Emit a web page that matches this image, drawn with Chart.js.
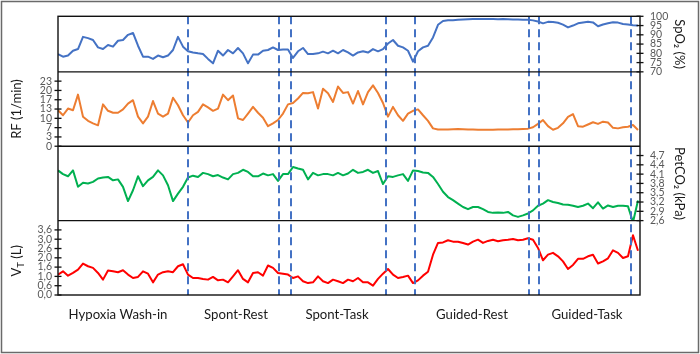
<!DOCTYPE html>
<html><head><meta charset="utf-8">
<script src="https://cdn.jsdelivr.net/npm/chart.js@4.4.1/dist/chart.umd.min.js"></script>
<style>html,body{margin:0;padding:0;background:#fff;}#wrap{width:700px;height:354px;}</style>
</head><body><div id="wrap"><canvas id="c" width="700" height="354"></canvas></div>
<script>
// ---- data (time in minutes, one sample every SAMPLE_STEP) ----
const SAMPLE_STEP = 0.5;
const spo2 = [79.6,78.2,78.8,81.4,82.3,88.9,88.2,87.2,83.2,82.3,84.5,83.6,86.8,87.2,90.0,91.0,84.1,78.2,78.2,77.0,
 78.8,77.9,78.8,81.8,88.9,83.6,81.1,80.5,80.0,79.6,77.0,74.6,81.4,78.8,81.8,80.0,82.9,80.0,74.6,79.3,
 79.3,81.4,81.8,83.2,81.8,82.1,82.1,77.5,81.1,82.9,79.6,79.6,80.0,80.9,80.0,81.4,80.0,81.8,80.5,78.8,
 80.5,81.1,80.4,82.3,81.1,82.3,85.3,87.2,84.1,83.2,81.4,75.5,81.1,83.2,84.1,88.6,95.4,97.5,97.9,
 97.9,98.1,98.3,98.4,98.5,98.6,98.6,98.5,98.5,98.4,98.5,98.4,98.3,98.3,98.2,98.1,97.8,97.2,96.2,97.0,
 96.9,96.5,95.5,94.0,95.0,96.2,96.7,97.0,96.7,94.6,95.6,96.2,96.8,96.6,95.8,95.6,95.2,95.0];
const rf = [12.9,11.1,13.5,12.9,18.5,10.6,9.1,8.2,7.5,15.0,12.7,12.0,12.0,13.2,15.3,16.5,10.6,8.2,10.6,16.2,
 11.7,10.6,11.7,17.4,14.7,11.1,8.5,11.1,12.3,15.0,13.9,12.7,13.5,18.5,16.5,18.2,10.0,9.4,11.7,14.1,
 12.0,10.2,7.2,8.2,9.4,11.7,15.0,15.5,17.1,19.1,19.0,19.4,13.5,20.6,19.0,15.9,21.4,19.1,19.4,15.3,
 19.8,15.0,19.4,21.8,19.1,15.5,10.6,14.1,11.1,9.1,11.7,12.7,13.2,11.1,9.1,6.4,6.0,6.0,6.0,
 6.1,6.2,6.1,6.0,6.0,5.9,5.9,5.9,5.9,6.0,6.0,6.0,6.1,6.1,6.2,6.3,6.8,8.0,9.4,7.2,
 5.9,6.6,8.2,10.5,11.5,7.2,7.0,7.8,8.6,8.0,8.8,8.5,6.6,6.4,6.8,7.0,7.6,5.8];
const petco2 = [4.22,4.10,4.03,4.22,3.69,3.82,3.80,3.85,3.96,3.99,4.01,3.90,3.93,3.69,3.23,3.58,4.03,3.71,3.90,4.01,
 4.22,4.06,3.74,3.23,3.47,3.69,3.99,4.05,4.01,4.14,4.10,4.03,4.07,3.99,3.93,4.10,4.14,4.24,4.17,4.03,
 4.03,4.12,4.06,4.10,3.88,4.10,4.10,4.33,4.28,4.24,3.93,4.14,4.06,4.10,4.10,4.06,4.14,4.06,4.12,4.24,
 4.14,4.17,4.24,4.14,4.20,3.78,4.03,4.01,4.06,4.10,3.88,4.22,4.20,4.15,4.14,4.01,3.78,3.53,3.36,
 3.26,3.15,3.04,2.97,3.04,3.04,2.97,2.88,2.85,2.86,2.85,2.88,2.77,2.72,2.77,2.83,2.93,3.08,3.15,3.26,
 3.20,3.17,3.12,3.11,3.08,3.04,3.08,3.15,3.00,3.19,2.99,3.09,3.04,3.08,3.08,3.06,2.55,3.25];
const vt = [1.13,1.31,1.07,1.22,1.40,1.74,1.59,1.50,1.22,0.85,1.35,1.31,1.26,1.37,1.13,0.94,1.00,1.31,1.18,0.70,
 1.13,1.26,1.31,1.26,1.59,1.70,1.13,0.94,0.94,0.89,0.85,1.00,0.81,0.85,0.70,1.03,1.37,0.89,0.70,1.22,
 1.26,1.07,1.63,1.50,1.22,1.18,1.13,0.94,1.03,0.76,0.66,0.70,1.03,0.76,0.66,0.85,0.76,0.66,0.85,0.76,
 0.94,0.70,0.70,0.52,0.89,1.18,1.44,1.13,0.94,1.00,1.07,0.66,0.81,1.07,1.29,2.23,2.88,2.91,3.03,
 2.95,2.95,2.88,2.79,2.95,3.06,2.88,2.99,3.06,2.97,3.03,3.06,3.10,3.03,3.06,3.14,3.06,2.60,1.92,2.23,
 2.33,2.14,1.86,1.44,1.66,2.00,2.00,2.14,2.23,1.74,1.86,2.03,2.47,2.33,2.05,2.14,3.30,2.45];

const phaseBoundaries = [13.0, 22.1, 23.3, 32.8, 35.7, 47.1, 48.1, 57.3];
const phaseNames = ['Hypoxia Wash-in', 'Spont-Rest', 'Spont-Task', 'Guided-Rest', 'Guided-Task'];
const phaseLabelPos = [6.0, 17.8, 27.9, 41.4, 52.9];

const spo2Ticks = [70, 75, 80, 85, 90, 95, 100];
const spo2TickLabels = ['70', '75', '80', '85', '90', '95', '100'];
const rfTicks = [0, 3.333, 6.667, 10, 13.333, 16.667, 20, 23.333];
const rfTickLabels = ['0', '3', '7', '10', '13', '17', '20', '23'];
const petTicks = [2.6, 2.9, 3.2, 3.5, 3.8, 4.1, 4.4, 4.7];
const petTickLabels = ['2,6', '2,9', '3,2', '3,5', '3,8', '4,1', '4,4', '4,7'];
const vtTicks = [0, 0.514, 1.029, 1.543, 2.057, 2.571, 3.086, 3.6];
const vtTickLabels = ['0,0', '0,6', '1,0', '1,6', '2,0', '2,6', '3,0', '3,6'];

// ---- chart ----
const times = spo2.map((_, i) => i * SAMPLE_STEP);
const toXY = arr => arr.map((v, i) => ({x: times[i], y: v}));
const FONT = 'Lato';
Chart.defaults.font.family = FONT;

function valueAxis(pos, weight, stackWeight, min, max, ticks, labels, title) {
  return {
    type: 'linear', position: pos, stack: 'panels', stackWeight, weight, min, max,
    grid: {display: false, drawTicks: false, tickLength: 0}, border: {display: false},
    afterBuildTicks: s => { s.ticks = ticks.map(v => ({value: v})); },
    ticks: {autoSkip: false, padding: pos === 'left' ? 6 : 10, color: '#595959',
            font: {family: FONT, size: 10.5}, callback: (v, i) => labels[i]},
    title: title ? {display: true, text: title, color: '#1a1a1a', font: {family: FONT, size: 13},
            padding: {top: pos === 'left' ? 9 : 13, bottom: 0}} : {display: false},
    afterFit: s => { s.width = pos === 'left' ? 58 : 60; }
  };
}
function spacer(pos, weight, stackWeight) {
  return {type: 'linear', position: pos, stack: 'panels', stackWeight, weight, display: false};
}

const decor = {
  id: 'decor',
  beforeDraw(chart) {
    const ctx = chart.ctx;
    ctx.save();
    ctx.strokeStyle = '#6a6a6a'; ctx.lineWidth = 1.5;
    ctx.strokeRect(1.5, 1.5, chart.width - 3, chart.height - 3);
    ctx.restore();
  },
  afterDatasetsDraw(chart) {
    const ctx = chart.ctx, a = chart.chartArea, s = chart.scales;
    ctx.save();
    // dashed phase boundaries
    ctx.strokeStyle = '#4472C4'; ctx.lineWidth = 2; ctx.setLineDash([8, 5]);
    phaseBoundaries.forEach(t => {
      const x = Math.round(s.x.getPixelForValue(t));
      ctx.beginPath(); ctx.moveTo(x, a.top); ctx.lineTo(x, a.bottom); ctx.stroke();
    });
    ctx.setLineDash([]);
    // panel frames
    ctx.strokeStyle = '#111'; ctx.lineWidth = 1.4;
    ctx.strokeRect(a.left, a.top, a.right - a.left, a.bottom - a.top);
    [s.ySpO2.bottom, s.yRF.bottom, s.yPet.bottom].forEach(y => {
      ctx.beginPath(); ctx.moveTo(a.left, y); ctx.lineTo(a.right, y); ctx.stroke();
    });
    // crossing tick marks
    ctx.lineWidth = 1.3;
    [[s.ySpO2, a.right], [s.yRF, a.left], [s.yPet, a.right], [s.yVT, a.left]].forEach(([sc, x]) => {
      sc.ticks.forEach(t => {
        const y = sc.getPixelForValue(t.value);
        ctx.beginPath(); ctx.moveTo(x - 3.5, y); ctx.lineTo(x + 3.5, y); ctx.stroke();
      });
    });
    // V_T title with subscript
    const vy = (s.yVT.top + s.yVT.bottom) / 2 + 3;
    ctx.translate(16.5, vy); ctx.rotate(-Math.PI / 2);
    ctx.fillStyle = '#1a1a1a'; ctx.textBaseline = 'middle';
    ctx.font = '13px ' + FONT; const wV = ctx.measureText('V').width;
    ctx.font = '9.5px ' + FONT; const wT = ctx.measureText('T').width;
    ctx.font = '13px ' + FONT; const wL = ctx.measureText(' (L)').width;
    let x0 = -(wV + wT + wL) / 2;
    ctx.textAlign = 'left';
    ctx.fillText('V', x0, 0);
    ctx.font = '9.5px ' + FONT; ctx.fillText('T', x0 + wV, 4);
    ctx.font = '13px ' + FONT; ctx.fillText(' (L)', x0 + wV + wT, 0);
    ctx.restore();
  }
};

new Chart(document.getElementById('c'), {
  type: 'line',
  data: {datasets: [
    {label: 'SpO2', data: toXY(spo2), yAxisID: 'ySpO2', borderColor: '#4472C4'},
    {label: 'RF', data: toXY(rf), yAxisID: 'yRF', borderColor: '#ED7D31'},
    {label: 'PetCO2', data: toXY(petco2), yAxisID: 'yPet', borderColor: '#00B050'},
    {label: 'VT', data: toXY(vt), yAxisID: 'yVT', borderColor: '#FF0000'}
  ]},
  options: {
    responsive: false, animation: false, devicePixelRatio: 1,
    layout: {padding: {top: 14, left: 0, right: 0, bottom: 0}},
    elements: {line: {borderWidth: 2, tension: 0, borderJoinStyle: 'round'}, point: {radius: 0}},
    plugins: {legend: {display: false}, tooltip: {enabled: false}},
    scales: {
      x: {type: 'linear', position: 'bottom', min: 0, max: 58.2,
          grid: {display: false, drawTicks: false, tickLength: 0}, border: {display: false},
          afterBuildTicks: s => { s.ticks = phaseLabelPos.map(v => ({value: v})); },
          ticks: {autoSkip: false, maxRotation: 0, padding: 12, color: '#1a1a1a',
                  font: {family: FONT, size: 13.2}, callback: (v, i) => phaseNames[i]},
          afterFit: s => { s.height = 59; }},
      ySpO2: valueAxis('right', 1, 56, 70, 100, spo2Ticks, spo2TickLabels, 'SpO\u2082 (%)'),
      yR1: spacer('right', 2, 75),
      yPet: valueAxis('right', 3, 75, 2.6, 5.0, petTicks, petTickLabels, 'PetCO\u2082 (kPa)'),
      yR2: spacer('right', 4, 75),
      yL1: spacer('left', 4, 56),
      yRF: valueAxis('left', 3, 75, 0, 26.667, rfTicks, rfTickLabels, 'RF (1/min)'),
      yL2: spacer('left', 2, 75),
      yVT: valueAxis('left', 1, 75, 0, 4.1143, vtTicks, vtTickLabels, null)
    }
  },
  plugins: [decor]
});
</script></body></html>
